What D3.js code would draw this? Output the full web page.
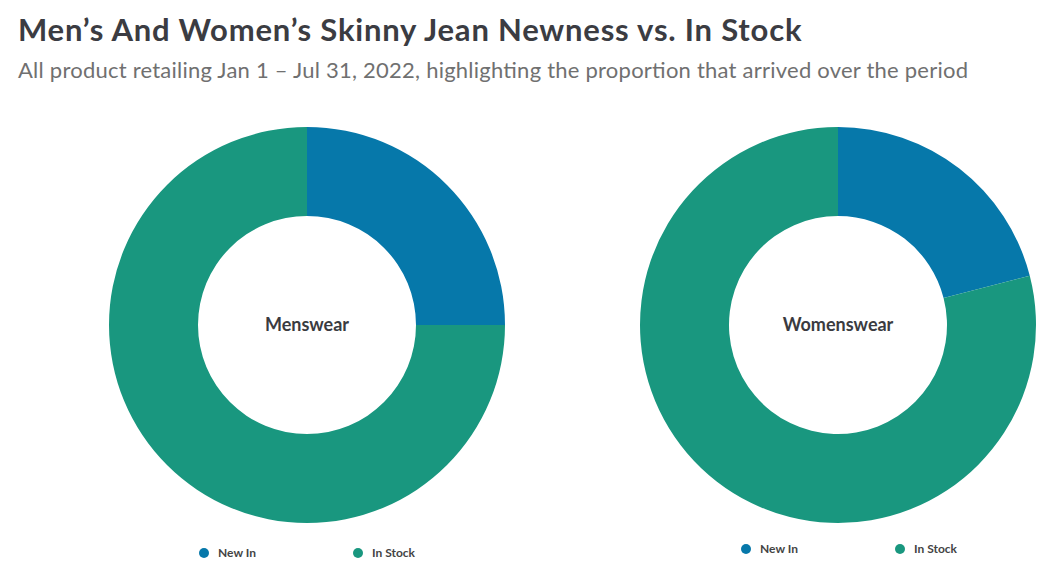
<!DOCTYPE html>
<html><head><meta charset="utf-8">
<script src="https://cdn.jsdelivr.net/npm/d3@7"></script>
<style>body{margin:0;background:#fff;font-family:Lato,"Open Sans",sans-serif;}</style>
</head><body>
<svg id="c" width="1052" height="580"></svg>
<script>
const categories = ["New In", "In Stock"];
const charts = ["Menswear", "Womenswear"];
const menValues = [25, 75];
const womenValues = [21, 79];
const colors = ["#0678aa", "#19977f"];

const svg = d3.select("#c");
svg.append("text").attr("x", 18).attr("y", 41).attr("font-size", 31).attr("font-weight", 700)
  .attr("letter-spacing", 0.5).attr("textLength", 784).attr("lengthAdjust", "spacing")
  .attr("fill", "#3b3c42").text("Men’s And Women’s Skinny Jean Newness vs. In Stock");
svg.append("text").attr("x", 18).attr("y", 78).attr("font-size", 22).attr("fill", "#707070")
  .attr("textLength", 950).attr("lengthAdjust", "spacing")
  .text("All product retailing Jan 1 – Jul 31, 2022, highlighting the proportion that arrived over the period");

const color = d3.scaleOrdinal().domain(categories).range(colors);
const pie = d3.pie().sort(null).value(d => d.v);
const arc = d3.arc().innerRadius(109).outerRadius(198);

const panels = [
  {name: charts[0], values: menValues, cx: 307, cy: 325, ly: 553, lx: 204},
  {name: charts[1], values: womenValues, cx: 838, cy: 325, ly: 549, lx: 746}
];
panels.forEach(p => {
  const g = svg.append("g").attr("transform", `translate(${p.cx},${p.cy})`);
  const data = categories.map((c, i) => ({c, v: p.values[i]}));
  g.selectAll("path").data(pie(data)).join("path")
    .attr("d", arc).attr("fill", d => color(d.data.c));
  g.append("text").attr("text-anchor", "middle").attr("dy", "0.35em")
    .attr("font-size", 18).attr("font-weight", 700).attr("fill", "#3a3b40").text(p.name);
  const lg = svg.append("g").attr("transform", `translate(${p.lx},${p.ly})`);
  categories.forEach((c, i) => {
    const x = i * 154;
    lg.append("circle").attr("cx", x).attr("cy", 0).attr("r", 5).attr("fill", color(c));
    lg.append("text").attr("x", x + 14).attr("y", 0).attr("dy", "0.35em")
      .attr("font-size", 12).attr("font-weight", 700).attr("fill", "#444").text(c);
  });
});
</script>
</body></html>
